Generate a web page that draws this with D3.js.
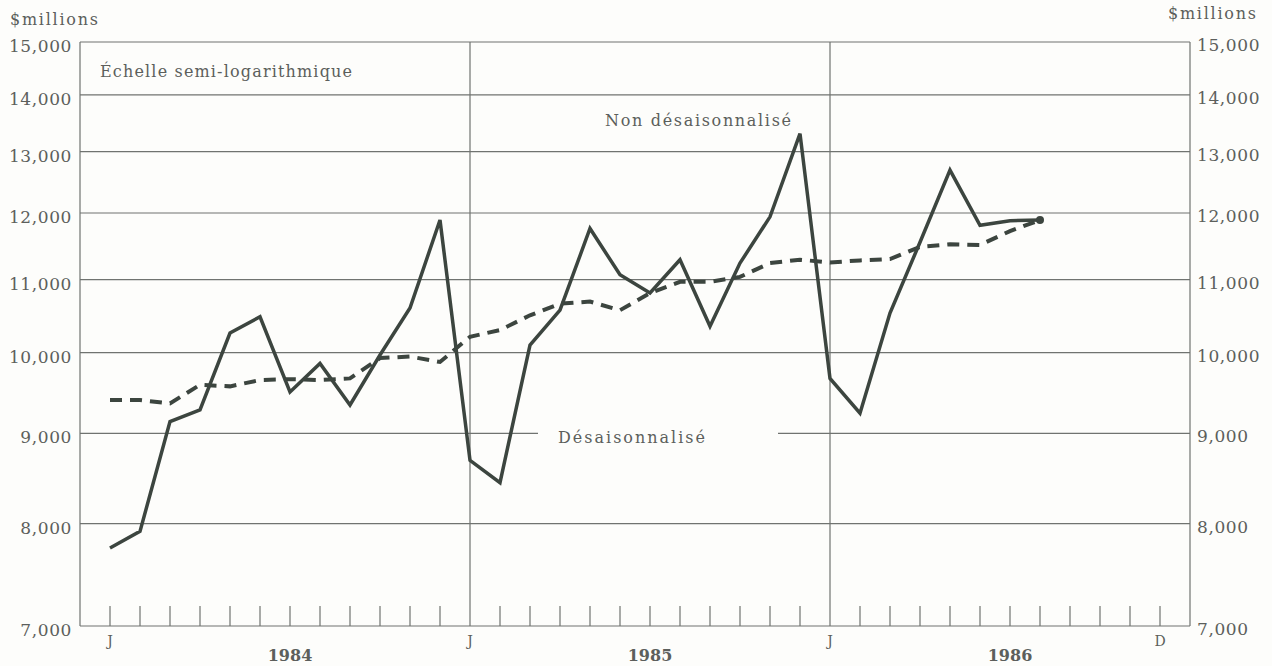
<!DOCTYPE html>
<html>
<head>
<meta charset="utf-8">
<script src="https://cdn.jsdelivr.net/npm/d3@7"></script>
<style>
  body { margin: 0; background: #fdfdfb; }
  svg { display: block; }
  text { font-family: "DejaVu Serif", serif; fill: #5c5f5c; }
</style>
</head>
<body>
<svg id="chart" width="1272" height="666"></svg>
<script>
// valeurs mensuelles, janv. 1984 -> août 1986 (index 0 = J 1984)
var nonAdjusted = [
  7750, 7920, 9140, 9280, 10260, 10480, 9500, 9860, 9340, 9970, 10600, 11890,
  8690, 8440, 10100, 10570, 11760, 11070, 10810, 11290, 10350, 11240, 11940, 13310,
  9670, 9240, 10530, 11550, 12690, 11810, 11880, 11890
];
var adjusted = [
  9400, 9400, 9360, 9590, 9570, 9650, 9660, 9650, 9670, 9930, 9950, 9880,
  10210, 10300, 10500, 10660, 10690, 10570, 10810, 10970, 10970, 11040, 11240, 11290,
  11250, 11280, 11300, 11480, 11520, 11510, 11720, 11890
];
var yTicks = [7000, 8000, 9000, 10000, 11000, 12000, 13000, 14000, 15000];
var years = ["1984", "1985", "1986"];
var monthLetters = ["J", "J", "J", "D"];
var monthLetterPos = [0, 12, 24, 35];
var yearStarts = [12, 24];   // lignes verticales (janvier 1985, janvier 1986)

var svg = d3.select("#chart");
// attention: "top" est deja pris par window.top
var pLeft = 80, pRight = 1190, pTop = 42, pBottom = 626;
var lineCol = "#3c453f", gridCol = "#707370";

var x = d3.scaleLinear().domain([-1, 36]).range([pLeft, pRight]);
var y = d3.scaleLog().domain([7000, 15000]).range([pBottom, pTop]);

// lignes horizontales
svg.append("g").selectAll("line").data(yTicks).join("line")
  .attr("x1", pLeft).attr("x2", pRight)
  .attr("y1", function(d){ return y(d); }).attr("y2", function(d){ return y(d); })
  .attr("stroke", gridCol).attr("stroke-width", 1.2);

// cadre et lignes verticales
svg.append("line").attr("x1", pLeft).attr("x2", pLeft).attr("y1", pTop).attr("y2", pBottom)
  .attr("stroke", gridCol).attr("stroke-width", 1.2);
svg.append("line").attr("x1", pRight).attr("x2", pRight).attr("y1", pTop).attr("y2", pBottom)
  .attr("stroke", gridCol).attr("stroke-width", 1.2);
svg.append("g").selectAll("line").data(yearStarts).join("line")
  .attr("x1", function(d){ return x(d); }).attr("x2", function(d){ return x(d); })
  .attr("y1", pTop).attr("y2", pBottom)
  .attr("stroke", gridCol).attr("stroke-width", 1.2);

// petites marques mensuelles
var monthTicks = d3.range(36).filter(function(d){ return yearStarts.indexOf(d) < 0; });
svg.append("g").selectAll("line").data(monthTicks).join("line")
  .attr("x1", function(d){ return x(d); }).attr("x2", function(d){ return x(d); })
  .attr("y1", pBottom - 20).attr("y2", pBottom)
  .attr("stroke", gridCol).attr("stroke-width", 1.2);

// etiquettes de l'axe des y, des deux cotes
svg.append("g").selectAll("text").data(yTicks).join("text")
  .attr("x", pLeft - 8).attr("y", function(d){ return y(d) + 10; })
  .attr("text-anchor", "end").style("font-size", "17px").style("letter-spacing", "0.6px")
  .text(function(d){ return d3.format(",")(d); });
svg.append("g").selectAll("text").data(yTicks).join("text")
  .attr("x", pRight + 7).attr("y", function(d){ return y(d) + 9; })
  .attr("text-anchor", "start").style("font-size", "17px").style("letter-spacing", "0.6px")
  .text(function(d){ return d3.format(",")(d); });

svg.append("text").attr("x", 10).attr("y", 25).style("font-size", "16px")
  .attr("textLength", 88).attr("lengthAdjust", "spacing").text("$millions");
svg.append("text").attr("x", 1168).attr("y", 19).style("font-size", "16px")
  .attr("textLength", 88).attr("lengthAdjust", "spacing").text("$millions");

// mois et annees
svg.append("g").selectAll("text").data(monthLetterPos).join("text")
  .attr("x", function(d){ return x(d); }).attr("y", 646)
  .attr("text-anchor", "middle").style("font-size", "14px")
  .text(function(d, i){ return monthLetters[i]; });
svg.append("g").selectAll("text").data(years).join("text")
  .attr("x", function(d, i){ return x(i * 12 + 6); }).attr("y", 661)
  .attr("text-anchor", "middle").style("font-size", "16px").style("font-weight", "bold")
  .text(function(d){ return d; });

// annotations
svg.append("text").attr("x", 100).attr("y", 77).style("font-size", "16px")
  .attr("textLength", 252).attr("lengthAdjust", "spacing").text("Échelle semi-logarithmique");
svg.append("text").attr("x", 605).attr("y", 126).style("font-size", "16px")
  .attr("textLength", 186).attr("lengthAdjust", "spacing").text("Non désaisonnalisé");
svg.append("rect").attr("x", 538).attr("y", y(9000) - 3).attr("width", 240).attr("height", 6)
  .attr("fill", "#fdfdfb");
svg.append("text").attr("x", 558).attr("y", 443).style("font-size", "16px")
  .attr("textLength", 147).attr("lengthAdjust", "spacing").text("Désaisonnalisé");

// series
var line = d3.line().x(function(d, i){ return x(i); }).y(function(d){ return y(d); });

svg.append("path").datum(adjusted).attr("d", line)
  .attr("fill", "none").attr("stroke", lineCol).attr("stroke-width", 4)
  .attr("stroke-dasharray", "12,8");
svg.append("path").datum(nonAdjusted).attr("d", line)
  .attr("fill", "none").attr("stroke", lineCol).attr("stroke-width", 3.5)
  .attr("stroke-linejoin", "miter");
svg.append("circle").attr("cx", x(nonAdjusted.length - 1)).attr("cy", y(nonAdjusted[nonAdjusted.length - 1]))
  .attr("r", 4).attr("fill", lineCol);
</script>
</body>
</html>
